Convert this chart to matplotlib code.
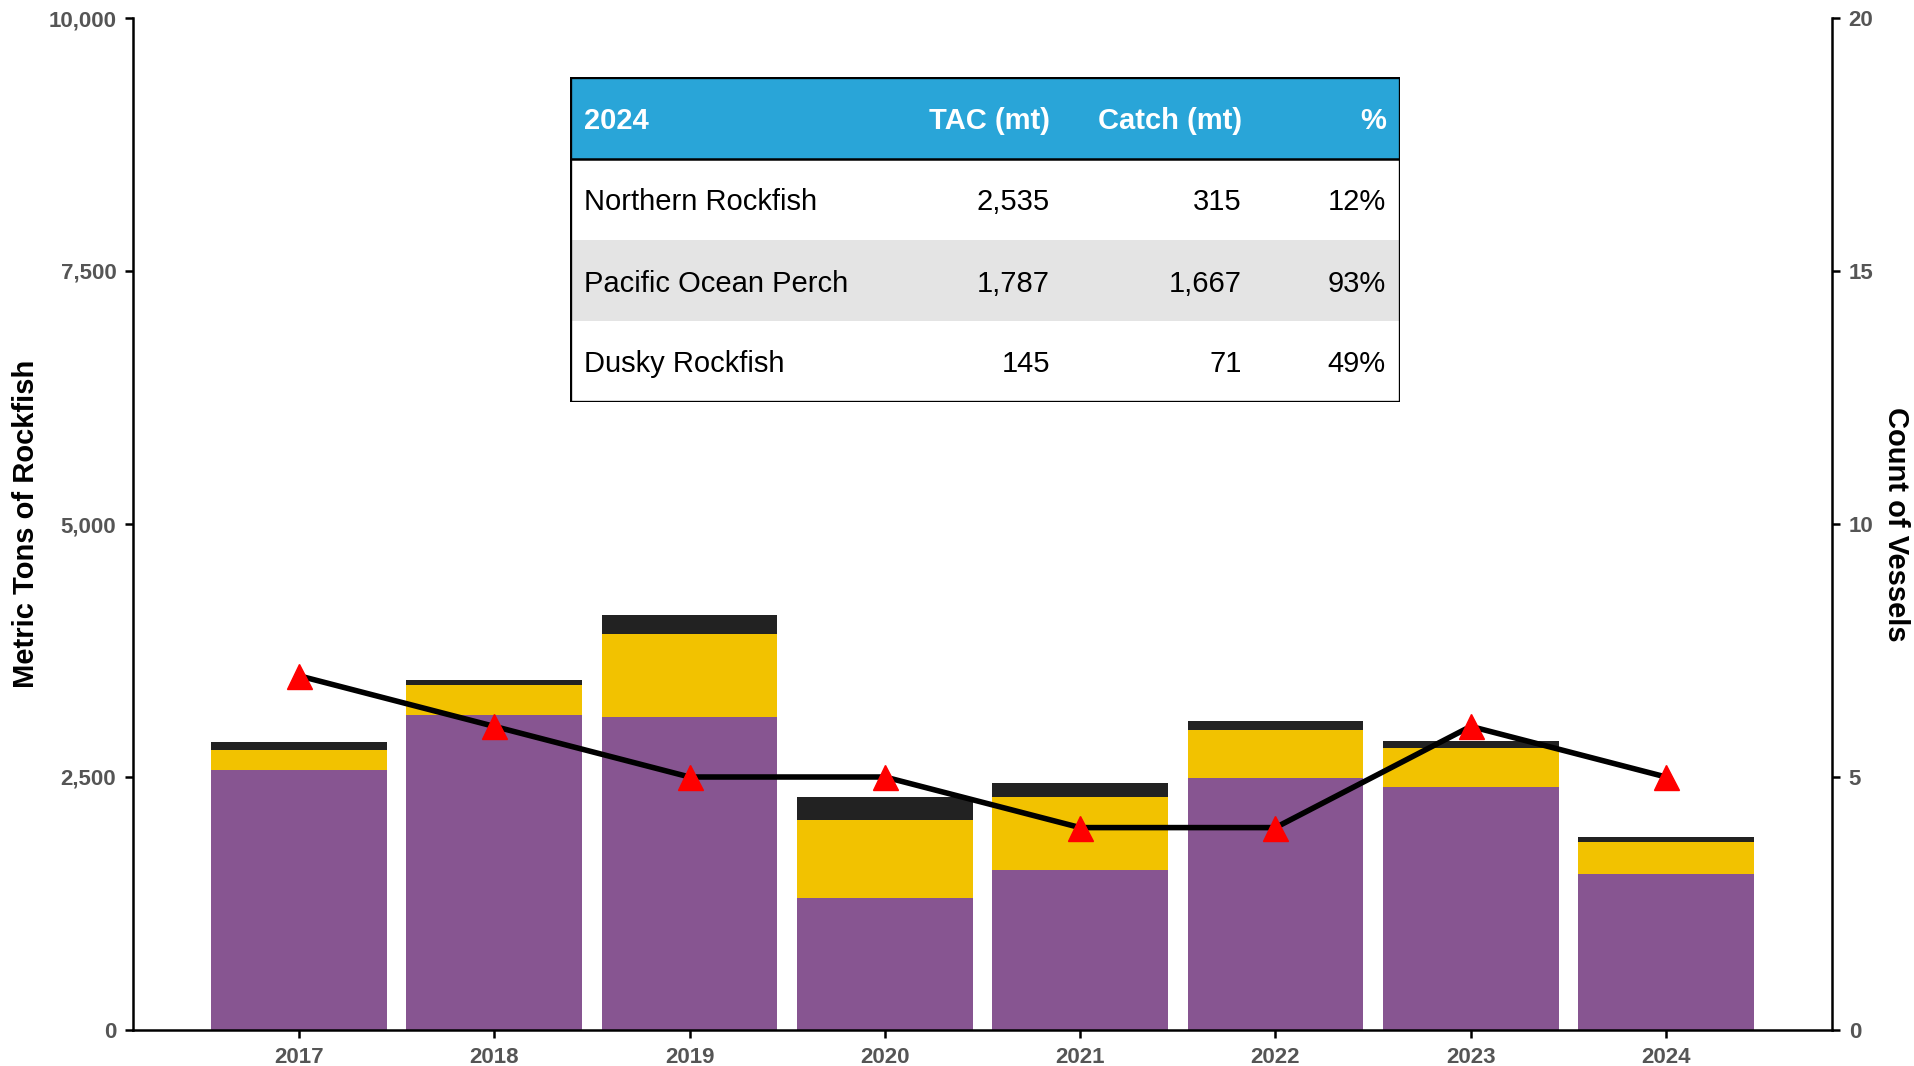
import matplotlib
matplotlib.use('Agg')
import matplotlib.pyplot as plt
from matplotlib.patches import Rectangle
from matplotlib.ticker import FuncFormatter

plt.rcParams['font.family'] = ['Liberation Sans', 'DejaVu Sans']

# Catch by year (metric tons), stacked
years = ['2017', '2018', '2019', '2020', '2021', '2022', '2023', '2024']
pop_catch = [2565, 3115, 3095, 1305, 1585, 2490, 2405, 1540]
northern_catch = [200, 290, 815, 770, 720, 470, 385, 320]
dusky_catch = [85, 50, 195, 230, 135, 95, 70, 50]
vessels = [7, 6, 5, 5, 4, 4, 6, 5]

# 2024 summary table
table_header = ['2024', 'TAC (mt)', 'Catch (mt)', '%']
table_species = ['Northern Rockfish', 'Pacific Ocean Perch', 'Dusky Rockfish']
table_tac = ['2,535', '1,787', '145']
table_catch = ['315', '1,667', '71']
table_pct = ['12%', '93%', '49%']

purple = '#875591'
yellow = '#F2C200'
dark = '#222222'
tick_gray = '#555555'

W, H = 1915, 1066
fig = plt.figure(figsize=(W / 100, H / 100), dpi=100)
ax = fig.add_axes([133 / W, 1 - 1030 / H, (1832 - 133) / W, (1030 - 18) / H])

x = list(range(len(years)))
bottom2 = [a + b for a, b in zip(pop_catch, northern_catch)]
ax.bar(x, pop_catch, width=0.9, color=purple, zorder=2)
ax.bar(x, northern_catch, width=0.9, bottom=pop_catch, color=yellow, zorder=2)
ax.bar(x, dusky_catch, width=0.9, bottom=bottom2, color=dark, zorder=2)

ax.set_xlim(-0.85, 7.85)
ax.set_ylim(0, 10000)
ax.set_yticks([0, 2500, 5000, 7500, 10000])
ax.yaxis.set_major_formatter(FuncFormatter(lambda v, p: f'{int(v):,}'))
ax.set_xticks(x)
ax.set_xticklabels(years)
ax.set_ylabel('Metric Tons of Rockfish', fontsize=21, fontweight='bold', labelpad=6)

for s in ['left', 'bottom']:
    ax.spines[s].set_linewidth(1.8)
ax.spines['top'].set_visible(False)
ax.spines['right'].set_visible(False)
ax.tick_params(axis='both', labelsize=16, labelcolor=tick_gray, width=1.8, length=6, pad=6)
for lbl in ax.get_xticklabels() + ax.get_yticklabels():
    lbl.set_fontweight('bold')

ax2 = ax.twinx()
ax2.plot(x, vessels, color='black', linewidth=4, zorder=3)
ax2.plot(x, vessels, linestyle='none', marker='^', markersize=18,
         color='red', zorder=4)
ax2.set_ylim(0, 20)
ax2.set_yticks([0, 5, 10, 15, 20])
ax2.set_ylabel('Count of Vessels', fontsize=21, fontweight='bold', rotation=270, labelpad=26)
ax2.spines['top'].set_visible(False)
ax2.spines['left'].set_visible(False)
ax2.spines['bottom'].set_visible(False)
ax2.spines['right'].set_linewidth(1.8)
ax2.tick_params(axis='y', labelsize=16, labelcolor=tick_gray, width=1.8, length=6, pad=6)
for lbl in ax2.get_yticklabels():
    lbl.set_fontweight('bold')

# Summary table drawn in its own axes (pixel-like units)
tw, th = 830, 325
tax = fig.add_axes([570 / W, 1 - 402 / H, tw / W, th / H])
tax.set_xlim(0, tw)
tax.set_ylim(th, 0)
tax.axis('off')
row_h = [82, 81, 81, 81]
tops = [0, 82, 163, 244]
tax.add_patch(Rectangle((0, 0), tw, row_h[0], facecolor='#29A5D8', edgecolor='none'))
tax.add_patch(Rectangle((0, tops[2]), tw, row_h[2], facecolor='#E4E4E4', edgecolor='none'))
tax.add_patch(Rectangle((0, 0), tw, th, facecolor='none', edgecolor='black', linewidth=2.4))
tax.plot([0, tw], [row_h[0], row_h[0]], color='black', linewidth=1.8)

col_x = [14, 480, 672, 816]
col_ha = ['left', 'right', 'right', 'right']
yc = tops[0] + row_h[0] / 2 + 3
for cx, ha, txt in zip(col_x, col_ha, table_header):
    tax.text(cx, yc, txt, ha=ha, va='center', fontsize=21, fontweight='bold', color='white')
for i in range(len(table_species)):
    yc = tops[i + 1] + row_h[i + 1] / 2 + 3
    vals = [table_species[i], table_tac[i], table_catch[i], table_pct[i]]
    for cx, ha, txt in zip(col_x, col_ha, vals):
        tax.text(cx, yc, txt, ha=ha, va='center', fontsize=21, color='black')

fig.savefig('out.png', dpi=100)
